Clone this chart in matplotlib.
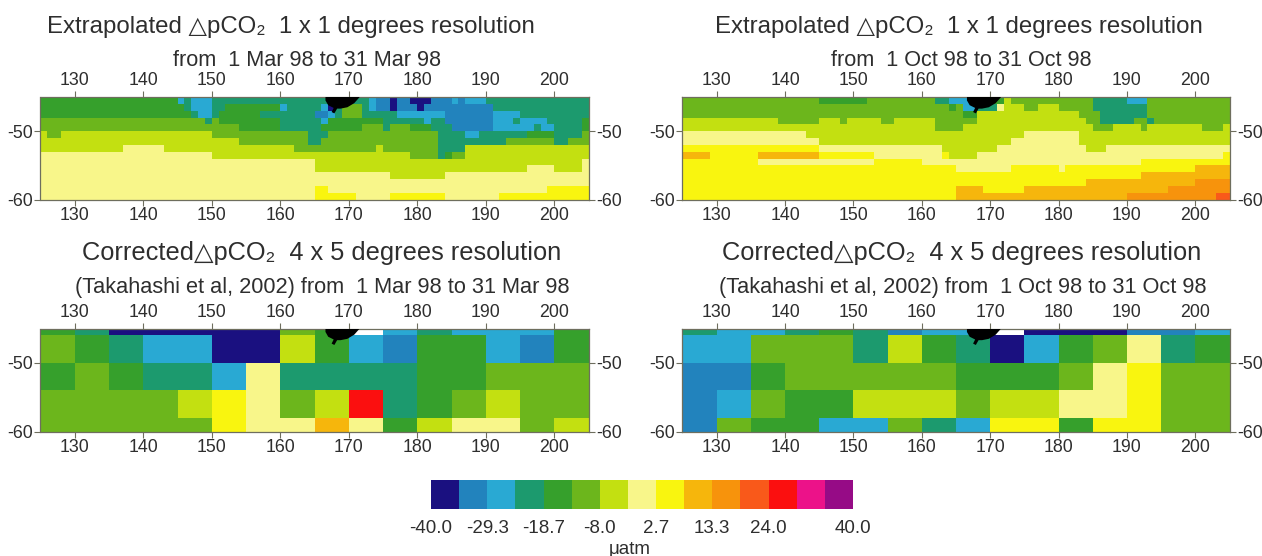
import numpy as np
import matplotlib
matplotlib.use('Agg')
import matplotlib.pyplot as plt
from matplotlib.colors import ListedColormap, BoundaryNorm

plt.rcParams['font.family'] = ['Liberation Sans', 'DejaVu Sans']
plt.rcParams['axes.unicode_minus'] = False

W, H = 1262, 556
TEXT = '#2e2e2e'
EDGE = '#6e6e5e'

# colour scale (uatm)
level_edges = [-40.0, -34.67, -29.33, -24.0, -18.67, -13.33, -8.0, -2.67, 2.67,
               8.0, 13.33, 18.67, 24.0, 29.33, 34.67, 40.0]
level_colors = ['#1a1080', '#2283bd', '#29a9d3', '#1c9a6e', '#36a02c', '#6cb61c',
                '#c3e011', '#f8f68a', '#f9f50f', '#f6b60c', '#f7930c', '#f9591a',
                '#fb0f0f', '#ec1289', '#960b86']
bar_ticks = [-40.0, -29.3, -18.7, -8.0, 2.7, 13.3, 24.0, 40.0]
bar_labels = ['-40.0', '-29.3', '-18.7', '-8.0', '2.7', '13.3', '24.0', '40.0']

lon_ticks = [130, 140, 150, 160, 170, 180, 190, 200]
lat_ticks = [-50, -60]

# 1 x 1 grid, top row first, each row is (end longitude, colour level)
mar_1x1 = [
    [(145, 4), (146, 2), (147, 3), (150, 2), (173, 3), (174, 2), (176, 1), (177, 0), (179, 1), (182, 0), (185, 1), (186, 2), (187, 1), (190, 2), (205, 3)],
    [(146, 4), (147, 3), (150, 2), (152, 3), (160, 4), (161, 2), (166, 3), (167, 2), (168, 0), (169, 3), (172, 5), (173, 3), (174, 2), (176, 1), (177, 0), (180, 1), (181, 0), (191, 1), (205, 3)],
    [(147, 4), (148, 3), (150, 2), (151, 3), (157, 4), (165, 3), (167, 1), (168, 2), (169, 3), (172, 5), (177, 3), (184, 2), (191, 1), (195, 2), (205, 3)],
    [(149, 5), (150, 3), (151, 5), (160, 4), (166, 3), (167, 2), (175, 4), (181, 3), (182, 2), (184, 3), (191, 1), (194, 2), (195, 3), (199, 2), (204, 3), (205, 4)],
    [(154, 5), (160, 4), (166, 3), (172, 4), (175, 5), (176, 3), (179, 5), (182, 4), (185, 3), (191, 1), (197, 2), (198, 3), (200, 2), (204, 3), (205, 4)],
    [(126, 6), (128, 5), (150, 6), (164, 5), (167, 3), (183, 5), (187, 3), (189, 2), (196, 3), (200, 4), (204, 3), (205, 5)],
    [(154, 6), (164, 5), (166, 3), (183, 5), (193, 3), (200, 5), (202, 3), (205, 5)],
    [(137, 6), (143, 7), (162, 6), (174, 5), (175, 6), (183, 5), (187, 3), (205, 6)],
    [(150, 7), (179, 6), (183, 5), (184, 3), (185, 4), (187, 5), (205, 6)],
    [(165, 7), (204, 6), (205, 7)],
    [(165, 7), (196, 6), (200, 7), (204, 6), (205, 7)],
    [(176, 7), (184, 6), (205, 7)],
    [(205, 7)],
    [(165, 7), (167, 8), (199, 7), (205, 8)],
    [(165, 7), (171, 8), (176, 7), (184, 8), (192, 7), (205, 8)],
]
oct_1x1 = [
    [(145, 5), (152, 4), (162, 5), (164, 3), (167, 2), (172, 4), (173, 6), (185, 5), (190, 3), (193, 2), (205, 5)],
    [(164, 5), (165, 4), (166, 5), (168, 2), (171, 3), (172, 7), (175, 6), (177, 5), (180, 6), (185, 5), (193, 3), (205, 5)],
    [(166, 5), (168, 4), (183, 6), (186, 5), (193, 3), (205, 5)],
    [(139, 6), (145, 5), (148, 6), (149, 5), (154, 6), (156, 5), (162, 6), (168, 5), (184, 6), (186, 5), (191, 3), (193, 5), (194, 3), (205, 5)],
    [(162, 6), (166, 5), (185, 6), (188, 5), (192, 6), (193, 5), (201, 6), (204, 5), (205, 6)],
    [(143, 7), (175, 6), (183, 7), (205, 6)],
    [(145, 7), (173, 6), (183, 7), (205, 6)],
    [(145, 8), (163, 7), (171, 6), (184, 7), (187, 6), (205, 7)],
    [(129, 9), (136, 8), (145, 9), (153, 8), (163, 7), (164, 8), (168, 6), (204, 7), (205, 8)],
    [(136, 8), (153, 7), (160, 8), (192, 7), (205, 8)],
    [(165, 8), (173, 7), (180, 8), (181, 7), (200, 8), (205, 9)],
    [(192, 8), (205, 9)],
    [(184, 8), (200, 9), (205, 10)],
    [(165, 8), (169, 9), (175, 8), (196, 9), (205, 10)],
    [(165, 8), (190, 9), (203, 10), (205, 11)],
]

# 4 x 5 grid, the outer bands are cut by the map edge, None = no data
coarse_lat_edges = [-60, -58, -54, -50, -46, -45]
mar_4x5 = [
    [(130, 4), (135, 3), (160, 0), (165, 5), (170, 4), (175, None), (180, 2), (185, 3), (200, 2), (205, 4)],
    [(130, 5), (135, 4), (140, 3), (150, 2), (160, 0), (165, 6), (170, 4), (175, 2), (180, 1), (190, 4), (195, 2), (200, 1), (205, 4)],
    [(130, 4), (135, 5), (140, 4), (150, 3), (155, 2), (160, 7), (180, 3), (190, 4), (205, 5)],
    [(145, 5), (150, 6), (155, 8), (160, 7), (165, 5), (170, 6), (175, 12), (180, 3), (185, 4), (190, 5), (195, 6), (205, 5)],
    [(150, 5), (155, 8), (165, 7), (170, 9), (175, 7), (180, 4), (185, 6), (195, 7), (200, 5), (205, 6)],
]
oct_4x5 = [
    [(130, 3), (140, 2), (145, 3), (150, 4), (155, 3), (160, 1), (170, 2), (175, None), (190, 0), (200, 1), (205, 2)],
    [(135, 2), (150, 5), (155, 3), (160, 6), (165, 4), (170, 3), (175, 0), (180, 2), (185, 4), (190, 5), (195, 7), (200, 3), (205, 4)],
    [(135, 1), (140, 4), (165, 5), (180, 4), (185, 5), (190, 7), (195, 8), (205, 5)],
    [(130, 1), (135, 2), (140, 5), (150, 4), (165, 6), (170, 5), (180, 6), (190, 7), (195, 8), (205, 5)],
    [(130, 1), (135, 5), (145, 4), (155, 2), (160, 5), (165, 3), (170, 2), (180, 8), (185, 4), (195, 8), (205, 5)],
]

# the land patch in the top of every map
land_lon = [166.6, 171.6, 170.8, 169.8, 168.8, 168.3, 167.9, 167.5, 167.8, 167.0, 166.6]
land_lat = [-45.0, -45.0, -45.9, -46.5, -46.7, -46.7, -47.4, -47.2, -46.6, -46.2, -45.5]


def expand(rows, start=125):
    # turn the (end, level) rows into a 1 degree table, bottom row first
    out = []
    for row in rows:
        vals = []
        left = start
        for end, level in row:
            vals += [np.nan if level is None else level + 0.5] * (end - left)
            left = end
        out.append(vals)
    return np.array(out[::-1])


def px_axes(fig, left, top, right, bottom):
    return fig.add_axes([left / W, 1 - bottom / H, (right - left) / W, (bottom - top) / H])


def draw_map(fig, box, rows, lat_edges):
    ax = px_axes(fig, *box)
    ax.pcolormesh(np.arange(125, 206), lat_edges, expand(rows), cmap=cmap, norm=norm)
    ax.fill(land_lon, land_lat, color='black', lw=0, zorder=3)
    ax.set_xlim(125, 205)
    ax.set_ylim(-60, -45)
    ax.set_xticks(lon_ticks)
    ax.set_yticks(lat_ticks)
    ax.set_yticklabels([str(v) for v in lat_ticks])
    ax.tick_params(top=True, right=True, labeltop=True, labelright=True, length=4, width=0.8,
                   color=EDGE, labelcolor=TEXT, labelsize=12.8, pad=1.5)
    for s in ax.spines.values():
        s.set_color(EDGE)
        s.set_linewidth(0.9)
    return ax


def label(fig, x, y, s, size):
    fig.text(x / W, 1 - y / H, s, ha='center', va='center', fontsize=size, color=TEXT)


cmap = ListedColormap(level_colors)
cmap.set_bad('white')
norm = BoundaryNorm(np.arange(0, 16), cmap.N)

fig = plt.figure(figsize=(W / 100, H / 100), dpi=100)

draw_map(fig, (40.5, 97, 588.5, 199.5), mar_1x1, np.arange(-60, -44))
draw_map(fig, (682.5, 97, 1229.5, 199.5), oct_1x1, np.arange(-60, -44))
draw_map(fig, (40.5, 328.5, 588.5, 431.5), mar_4x5, coarse_lat_edges)
draw_map(fig, (682.5, 328.5, 1229.5, 431.5), oct_4x5, coarse_lat_edges)

label(fig, 291, 27, 'Extrapolated \u25b3pCO\u2082  1 x 1 degrees resolution', 17.3)
label(fig, 307, 60, 'from  1 Mar 98 to 31 Mar 98', 15.6)
label(fig, 959, 27, 'Extrapolated \u25b3pCO\u2082  1 x 1 degrees resolution', 17.3)
label(fig, 961, 60, 'from  1 Oct 98 to 31 Oct 98', 15.6)
label(fig, 322, 253, 'Corrected\u25b3pCO\u2082  4 x 5 degrees resolution', 18.3)
label(fig, 322, 288, '(Takahashi et al, 2002) from  1 Mar 98 to 31 Mar 98', 15.7)
label(fig, 962, 253, 'Corrected\u25b3pCO\u2082  4 x 5 degrees resolution', 18.3)
label(fig, 963, 288, '(Takahashi et al, 2002) from  1 Oct 98 to 31 Oct 98', 15.7)

# colour bar
cax = px_axes(fig, 431, 480, 853, 509)
cax.pcolormesh(level_edges, [0, 1], np.arange(15).reshape(1, -1) + 0.5, cmap=cmap, norm=norm)
cax.set_yticks([])
cax.set_xticks(bar_ticks)
cax.set_xticklabels(bar_labels)
cax.tick_params(length=0, labelsize=13.5, labelcolor=TEXT, pad=8)
for s in cax.spines.values():
    s.set_visible(False)
label(fig, 630, 549, '\u03bcatm', 13.5)

fig.savefig('out.png', dpi=100)
